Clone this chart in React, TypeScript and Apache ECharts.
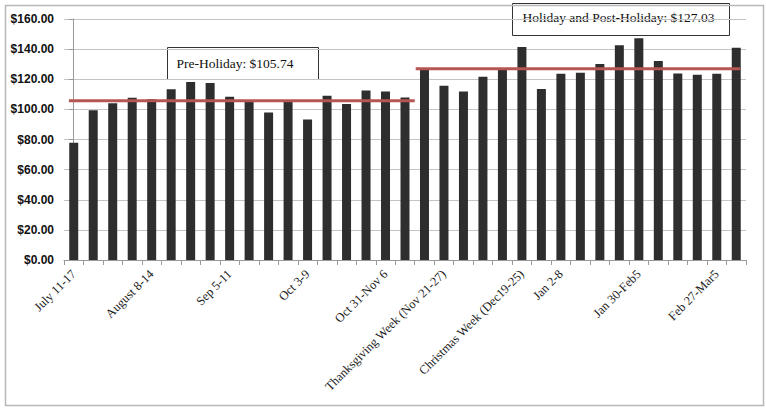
import React, { useEffect, useRef } from "react";
import * as echarts from "echarts";

const weeks: string[] = [
  "July 11-17", "July 18-24", "July 25-31", "Aug 1-7", "August 8-14", "Aug 15-21",
  "Aug 22-28", "Aug 29-Sep 4", "Sep 5-11", "Sep 12-18", "Sep 19-25", "Sep 26-Oct 2",
  "Oct 3-9", "Oct 10-16", "Oct 17-23", "Oct 24-30", "Oct 31-Nov 6", "Nov 7-13",
  "Nov 14-20", "Thanksgiving Week (Nov 21-27)", "Nov 28-Dec 4", "Dec 5-11", "Dec 12-18",
  "Christmas Week (Dec19-25)", "Dec 26-Jan 1", "Jan 2-8", "Jan 9-15", "Jan 16-22",
  "Jan 23-29", "Jan 30-Feb5", "Feb 6-12", "Feb 13-19", "Feb 20-26", "Feb 27-Mar5", "Mar 6-12",
];

const values: number[] = [
  77.8, 99.5, 104.0, 107.7, 106.8, 113.3, 118.1, 117.5, 108.4, 105.3, 98.0, 105.5,
  93.3, 109.0, 103.5, 112.6, 111.9, 107.9,
  126.1, 115.7, 111.9, 121.6, 127.0, 141.4, 113.5, 123.6, 124.3, 130.1, 142.5, 147.2,
  132.1, 123.9, 123.0, 123.6, 140.9,
];

const shownLabelIdx: number[] = [0, 4, 8, 12, 16, 19, 23, 25, 29, 33];

const preHolidayAvg = 105.74;
const holidayAvg = 127.03;
const preHolidaySpan: number[] = [-0.25, 17.5];
const holidaySpan: number[] = [17.55, 34.2];

const yTicks: number[] = [0, 160, 20];

export default function App() {
  const ref = useRef<HTMLDivElement>(null);
  useEffect(() => {
    if (!ref.current) return;
    const chart = echarts.init(ref.current, undefined, { renderer: "svg" });
    const serif = "'Liberation Serif', 'DejaVu Serif', serif";
    chart.setOption({
      animation: false,
      backgroundColor: "#ffffff",
      grid: { left: 64, right: 20, top: 19, bottom: 148, containLabel: false },
      xAxis: [
        {
          type: "category",
          data: weeks,
          axisLine: { show: true, lineStyle: { color: "#9a9a9a", width: 1 } },
          axisTick: { show: true, interval: 0, length: 5, lineStyle: { color: "#9a9a9a" } },
          axisLabel: {
            interval: (i: number) => shownLabelIdx.includes(i),
            rotate: 45,
            fontFamily: serif,
            fontSize: 12.5,
            color: "#1a1a1a",
            margin: 12,
          },
        },
        {
          type: "value",
          min: -0.5,
          max: weeks.length - 0.5,
          show: false,
        },
      ],
      yAxis: {
        type: "value",
        min: yTicks[0],
        max: yTicks[1],
        interval: yTicks[2],
        axisLine: { show: true, lineStyle: { color: "#9a9a9a", width: 1 } },
        axisTick: { show: true, length: 5, lineStyle: { color: "#9a9a9a" } },
        splitLine: { show: true, lineStyle: { color: "#c4c4c4", width: 1 } },
        axisLabel: {
          formatter: (v: number) => "$" + v.toFixed(2),
          fontFamily: "'Liberation Sans', Arial, sans-serif",
          fontSize: 12,
          fontWeight: "bold",
          color: "#111",
          margin: 10,
        },
      },
      series: [
        {
          type: "bar",
          data: values,
          barWidth: 9,
          itemStyle: { color: "#2e2e2e" },
        },
        {
          type: "line",
          xAxisIndex: 1,
          data: [
            [preHolidaySpan[0], preHolidayAvg],
            [preHolidaySpan[1], preHolidayAvg],
          ],
          symbol: "none",
          lineStyle: { color: "#b65652", width: 3 },
          z: 5,
        },
        {
          type: "line",
          xAxisIndex: 1,
          data: [
            [holidaySpan[0], holidayAvg],
            [holidaySpan[1], holidayAvg],
          ],
          symbol: "none",
          lineStyle: { color: "#b65652", width: 3 },
          z: 5,
        },
      ],
      graphic: [
        {
          type: "rect",
          left: 3,
          top: 3,
          shape: { width: 758, height: 400 },
          style: { fill: "none", stroke: "#b8b8b8", lineWidth: 1.5 },
          z: 100,
        },
        {
          type: "group",
          left: 167,
          top: 47,
          z: 100,
          children: [
            {
              type: "rect",
              shape: { width: 151, height: 32 },
              style: { fill: "#ffffff", stroke: "#333333", lineWidth: 1 },
            },
            {
              type: "text",
              x: 9,
              y: 16,
              style: {
                text: "Pre-Holiday: $" + preHolidayAvg.toFixed(2),
                font: "13.5px " + serif,
                fill: "#111",
                verticalAlign: "middle",
              },
            },
          ],
        },
        {
          type: "group",
          left: 512,
          top: 3,
          z: 100,
          children: [
            {
              type: "rect",
              shape: { width: 217, height: 32 },
              style: { fill: "#ffffff", stroke: "#333333", lineWidth: 1 },
            },
            {
              type: "text",
              x: 10,
              y: 14,
              style: {
                text: "Holiday and Post-Holiday: $" + holidayAvg.toFixed(2),
                font: "13.5px " + serif,
                fill: "#111",
                verticalAlign: "middle",
              },
            },
          ],
        },
      ],
    });
    return () => chart.dispose();
  }, []);
  return (
    <div
      ref={ref}
      style={{ position: "absolute", left: 0, top: 0, width: 766, height: 408 }}
    />
  );
}
